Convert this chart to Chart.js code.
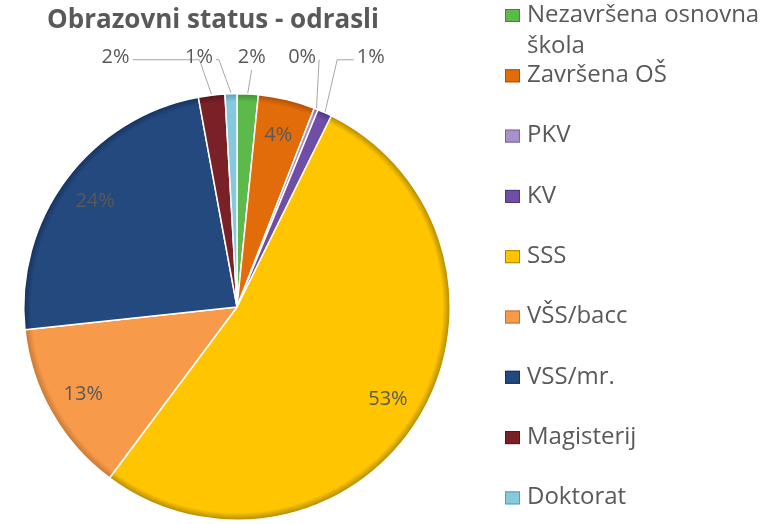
<!DOCTYPE html>
<html>
<head>
<meta charset="utf-8">
<script src="https://cdn.jsdelivr.net/npm/chart.js@4.4.1/dist/chart.umd.min.js"></script>
<style>
  html, body { margin: 0; padding: 0; background: #fff; }
  #wrap { width: 769px; height: 524px; }
</style>
</head>
<body>
<div id="wrap"><canvas id="pie" width="769" height="524"></canvas></div>
<script>
var chartTitle = 'Obrazovni status - odrasli';
var categories = ['Nezavršena osnovna škola', 'Završena OŠ', 'PKV', 'KV', 'SSS', 'VŠS/bacc', 'VSS/mr.', 'Magisterij', 'Doktorat'];
var values = [1.6, 4.3, 0.3, 1.1, 52.9, 13.1, 23.8, 2.0, 0.9];
var percentLabels = ['2%', '4%', '0%', '1%', '53%', '13%', '24%', '2%', '1%'];

var colors = ['#5cb94a', '#e36c0a', '#a790cc', '#6f4fa6', '#ffc600', '#f79a4a', '#23497e', '#7a2127', '#86c8de'];
var edgeColors = ['#3f8a30', '#a84d05', '#7a66a0', '#4e3580', '#a88200', '#c0722f', '#14305a', '#55141a', '#5a9cb4'];
var textColor = '#595959';
var fontFamily = '"Open Sans", sans-serif';

// labels drawn outside with leader line (horizontal shift from the slice edge)
var outsideShift = { 0: 4, 2: -14, 3: 46, 7: -96, 8: -32 };

function sliceFill(context) {
    var chart = context.chart;
    var i = context.dataIndex;
    var a = chart.chartArea;
    if (!a) return colors[i];
    var cx = (a.left + a.right) / 2, cy = (a.top + a.bottom) / 2;
    var R = Math.min(a.right - a.left, a.bottom - a.top) / 2;
    var g = chart.ctx.createRadialGradient(cx, cy, 0, cx, cy, R);
    g.addColorStop(0, colors[i]);
    g.addColorStop(0.96, colors[i]);
    g.addColorStop(1, edgeColors[i]);
    return g;
}

var labelPlugin = {
    id: 'pieLabels',
    afterDatasetsDraw: function(chart) {
        var ctx = chart.ctx;
        var meta = chart.getDatasetMeta(0);
        ctx.save();
        ctx.font = '20px ' + fontFamily;
        ctx.fillStyle = textColor;
        ctx.textAlign = 'center';
        ctx.textBaseline = 'middle';
        meta.data.forEach(function(arc, i) {
            var mid = (arc.startAngle + arc.endAngle) / 2;
            var R = arc.outerRadius;
            if (outsideShift[i] !== undefined) {
                var ax = arc.x + Math.cos(mid) * (R + 1);
                var ay = arc.y + Math.sin(mid) * (R + 1);
                var lx = arc.x + Math.cos(mid) * R + outsideShift[i];
                var ly = arc.y - R - 36;
                var w = ctx.measureText(percentLabels[i]).width;
                var sx, sy;
                if (Math.abs(lx - ax) < 8) { sx = lx; sy = ly + 12; }
                else if (lx < ax) { sx = lx + w / 2 + 3; sy = ly + 2; }
                else { sx = lx - w / 2 - 3; sy = ly + 2; }
                ctx.strokeStyle = '#a6a6a6';
                ctx.lineWidth = 1;
                ctx.beginPath();
                ctx.moveTo(sx, sy);
                if (Math.abs(lx - ax) > 30) { ctx.lineTo(ax - (ax > sx ? 12 : -12), sy); }
                ctx.lineTo(ax, ay);
                ctx.stroke();
                ctx.fillText(percentLabels[i], lx, ly);
            } else {
                var r = R * 0.83;
                ctx.fillText(percentLabels[i], arc.x + Math.cos(mid) * r, arc.y + Math.sin(mid) * r);
            }
        });
        ctx.restore();
    }
};

var sideLegend = {
    id: 'sideLegend',
    afterDraw: function(chart) {
        var ctx = chart.ctx;
        ctx.save();
        // title
        ctx.font = 'bold 26px ' + fontFamily;
        ctx.fillStyle = textColor;
        ctx.textAlign = 'center';
        ctx.textBaseline = 'middle';
        ctx.fillText(chartTitle, 213, 21);
        // legend
        ctx.font = '24px ' + fontFamily;
        ctx.textAlign = 'left';
        var x0 = 505, tx = 527, maxW = 240;
        categories.forEach(function(name, i) {
            var y = 15 + i * 60.3;
            ctx.fillStyle = colors[i];
            ctx.fillRect(x0, y - 6, 15, 13);
            ctx.strokeStyle = edgeColors[i];
            ctx.lineWidth = 1;
            ctx.strokeRect(x0 + 0.5, y - 5.5, 14, 12);
            ctx.fillStyle = textColor;
            var words = name.split(' ');
            var line = '', lines = [];
            words.forEach(function(wd) {
                var test = line ? line + ' ' + wd : wd;
                if (ctx.measureText(test).width > maxW && line) { lines.push(line); line = wd; }
                else { line = test; }
            });
            lines.push(line);
            lines.forEach(function(l, k) { ctx.fillText(l, tx, y + k * 31); });
        });
        ctx.restore();
    }
};

new Chart(document.getElementById('pie').getContext('2d'), {
    type: 'pie',
    data: {
        labels: categories,
        datasets: [{
            data: values,
            backgroundColor: sliceFill,
            borderColor: '#ffffff',
            borderWidth: 1.5
        }]
    },
    options: {
        responsive: false,
        animation: false,
        layout: { padding: { left: 23, right: 318, top: 93, bottom: 3 } },
        plugins: {
            legend: { display: false },
            tooltip: { enabled: false }
        }
    },
    plugins: [labelPlugin, sideLegend]
});
</script>
</body>
</html>
